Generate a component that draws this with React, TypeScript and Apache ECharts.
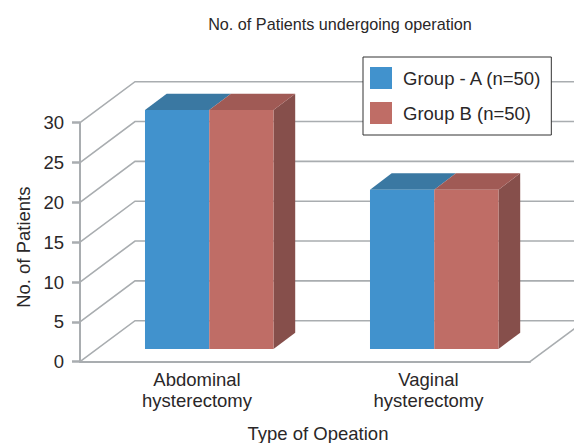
import React, { useEffect, useRef } from "react";
import * as echarts from "echarts";

const categories = ["Abdominal\nhysterectomy", "Vaginal\nhysterectomy"];
const groupA = [30, 20];
const groupB = [30, 20];
const yTicks = [0, 5, 10, 15, 20, 25, 30];
const nameA = "Group - A (n=50)";
const nameB = "Group B (n=50)";
const titleText = "No. of Patients undergoing operation";
const xName = "Type of Opeation";
const yName = "No. of Patients";

const FONT = "Liberation Sans";
const TEXT = "#2a2728";
const LINE = "#a9adb0";

function barRenderer(side: number, front: string, top: string, right: string | null) {
  return (params: any, api: any) => {
    const i = api.value(0);
    const v = api.value(1);
    const band = api.size([1, 0])[0];
    const w = band * 0.2856;
    const c = api.coord([i, 0]);
    const t = api.coord([i, v]);
    const sx = 16.75, sy = 12.7, dx = 21.7, dy = 16.3;
    const x0 = c[0] + sx + (side < 0 ? -w : 0);
    const x1 = x0 + w;
    const yb = c[1] - sy;
    const yt = t[1] - sy;
    const children: any[] = [];
    if (right) {
      children.push({ type: "polygon", shape: { points: [[x1, yt], [x1 + dx, yt - dy], [x1 + dx, yb - dy], [x1, yb]] }, style: { fill: right } });
    }
    children.push({ type: "polygon", shape: { points: [[x0, yt], [x0 + dx, yt - dy], [x1 + dx, yt - dy], [x1, yt]] }, style: { fill: top } });
    children.push({ type: "rect", shape: { x: x0, y: yt, width: w, height: yb - yt }, style: { fill: front } });
    return { type: "group", children };
  };
}

const wallRenderer = (params: any, api: any) => {
  const v = api.value(0);
  const p = api.coord([0, v]);
  const x0 = params.coordSys.x;
  const x1 = x0 + params.coordSys.width;
  const wx = 55, wy = 41;
  const children: any[] = [
    {
      type: "polyline",
      shape: { points: [[x0, p[1]], [x0 + wx, p[1] - wy], [x1 + wx + 20, p[1] - wy]] },
      style: { stroke: LINE, lineWidth: 1.6, fill: "none" },
    },
  ];
  if (v === 0) {
    children.push({
      type: "line",
      shape: { x1: x1, y1: p[1], x2: x1 + wx, y2: p[1] - wy },
      style: { stroke: LINE, lineWidth: 1.6 },
    });
  }
  return { type: "group", children };
};

export default function App() {
  const ref = useRef<HTMLDivElement>(null);
  useEffect(() => {
    const chart = echarts.init(ref.current!, undefined, { renderer: "svg", width: 574, height: 443 });
    chart.setOption({
      animation: false,
      backgroundColor: "#ffffff",
      textStyle: { fontFamily: FONT },
      title: {
        text: titleText,
        left: 335,
        top: 11,
        textAlign: "center",
        textStyle: { fontFamily: FONT, fontSize: 16.2, fontWeight: "normal", color: TEXT },
      },
      legend: {
        left: 363,
        top: 57,
        orient: "vertical",
        data: [nameA, nameB],
        icon: "rect",
        itemWidth: 22,
        itemHeight: 22,
        itemGap: 13,
        padding: [10, 9, 11, 7],
        backgroundColor: "#ffffff",
        borderColor: "#333333",
        borderWidth: 1,
        textStyle: { fontFamily: FONT, fontSize: 18.5, color: TEXT, padding: [0, 0, 0, 6] },
      },
      grid: { left: 80, top: 122.7, width: 450, height: 239, containLabel: false, outerBoundsMode: "none" },
      xAxis: {
        type: "category",
        data: [
          { value: categories[0], textStyle: { padding: [0, 0, 0, 9] } },
          { value: categories[1], textStyle: { padding: [0, 0, 0, 22] } },
        ],
        name: xName,
        nameLocation: "middle",
        nameGap: 62,
        nameTextStyle: { fontFamily: FONT, fontSize: 18.5, color: TEXT, padding: [0, 0, 0, 26] },
        axisLine: { lineStyle: { color: LINE, width: 2 } },
        axisTick: { show: false },
        axisLabel: { fontFamily: FONT, fontSize: 18.5, color: TEXT, margin: 7, lineHeight: 21.5 },
      },
      yAxis: {
        type: "value",
        min: 0,
        max: 30,
        interval: 5,
        name: yName,
        nameLocation: "middle",
        nameGap: 46,
        nameTextStyle: { fontFamily: FONT, fontSize: 18.5, color: TEXT, padding: [0, 10, 0, 0] },
        axisLine: { show: true, lineStyle: { color: LINE, width: 2 } },
        axisTick: { show: true, length: 8, lineStyle: { color: LINE, width: 2.5 } },
        axisLabel: { fontFamily: FONT, fontSize: 18.5, color: TEXT, margin: 16 },
        splitLine: { show: false },
      },
      series: [
        {
          type: "custom",
          name: "walls",
          renderItem: wallRenderer,
          data: yTicks.map((t) => [t]),
          encode: { y: 0 },
          silent: true,
          z: 1,
        },
        {
          type: "custom",
          name: nameA,
          itemStyle: { color: "#4192cd" },
          renderItem: barRenderer(-1, "#4192cd", "#3a78a2", null),
          data: groupA.map((v, i) => [i, v]),
          encode: { x: 0, y: 1 },
          z: 2,
        },
        {
          type: "custom",
          name: nameB,
          itemStyle: { color: "#bf6d66" },
          renderItem: barRenderer(1, "#bf6d66", "#a05a55", "#864f4b"),
          data: groupB.map((v, i) => [i, v]),
          encode: { x: 0, y: 1 },
          z: 3,
        },
      ],
    });
    return () => chart.dispose();
  }, []);
  return <div ref={ref} style={{ position: "absolute", left: 0, top: 0, width: 574, height: 443, overflow: "hidden" }} />;
}
